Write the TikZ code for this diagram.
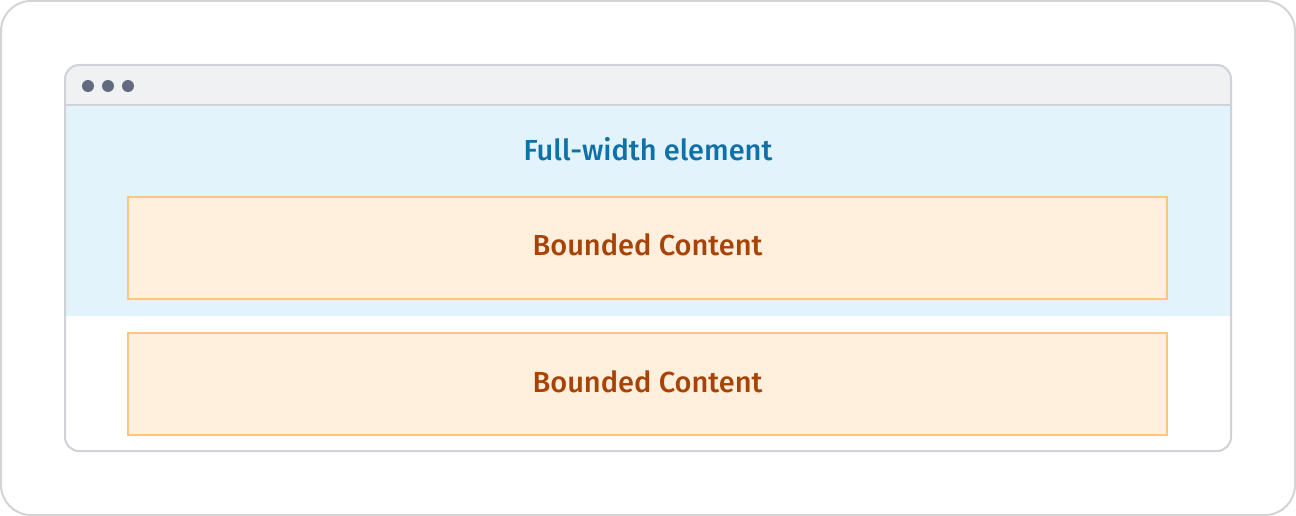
\documentclass[tikz,border=0pt]{standalone}
\usepackage{fontspec}
\setmainfont{Fira Sans}[UprightFont=* Medium]
\definecolor{outerline}{HTML}{D4D4D4}
\definecolor{winline}{HTML}{D1D1D9}
\definecolor{titlefill}{HTML}{F0F1F3}
\definecolor{dotcol}{HTML}{636A80}
\definecolor{bluefill}{HTML}{E2F3FC}
\definecolor{bluetext}{HTML}{1070A8}
\definecolor{boxfill}{HTML}{FFEFDC}
\definecolor{boxline}{HTML}{FDC67F}
\definecolor{boxtext}{HTML}{A84306}
\tikzset{
  bounded/.style={draw=boxline, fill=boxfill, line width=2pt, minimum width=1039pt, minimum height=102pt, anchor=north west, inner sep=0pt, outer sep=0pt},
  labelfont/.style={font=\fontsize{29}{34}\selectfont, anchor=base, inner sep=0pt},
  boundedtext/.style={text=boxtext, labelfont},
  dot/.style={circle, fill=dotcol, minimum size=12pt, inner sep=0pt}
}
\begin{document}
\begin{tikzpicture}[x=1pt,y=-1pt]
\useasboundingbox (0,0) rectangle (1296,516);
\draw[outerline, line width=2pt, rounded corners=30pt] (1,1) rectangle (1295,515);
% window
\begin{scope}
\clip[rounded corners=14pt] (65,65) rectangle (1231,451);
\fill[white] (65,65) rectangle (1231,451);
\fill[titlefill] (65,65) rectangle (1231,105);
\fill[bluefill] (65,105) rectangle (1231,316);
\end{scope}
\draw[winline, line width=2pt] (65,105) -- (1231,105);
\draw[winline, line width=2pt, rounded corners=14pt] (65,65) rectangle (1231,451);
\node[dot] (d1) at (88,86) {};
\node[dot] (d2) at (108,86) {};
\node[dot] (d3) at (128,86) {};
\node[text=bluetext, labelfont] (full) at (648,160.5) {Full-width element};
\node[bounded] (b1) at (128,197) {};
\node[boundedtext] (t1) at ([yshift=-7pt]b1.center) {Bounded Content};
\node[bounded] (b2) at (128,333) {};
\node[boundedtext] (t2) at ([yshift=-8pt]b2.center) {Bounded Content};
\end{tikzpicture}
\end{document}
